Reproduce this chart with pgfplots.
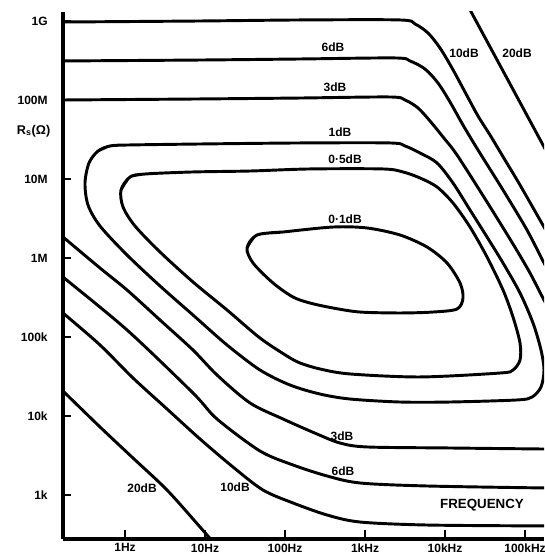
\documentclass[border=0pt]{standalone}
\usepackage{fontspec}
\setmainfont{Liberation Sans}
\usepackage{pgfplots}
\pgfplotsset{compat=1.18}

\begin{document}
\begin{tikzpicture}[lbl/.style={font=\bfseries\fontsize{9}{10}\selectfont}]
\path[use as bounding box, fill=white] (0pt,0pt) rectangle (408pt,417pt);
\begin{axis}[
    at={(47.25pt,12.75pt)}, anchor=south west,
    scale only axis, width=360.75pt, height=395.25pt,
    xmin=-0.775, xmax=5.2375, ymin=2.443, ymax=9.114,
    axis lines=left,
    axis line style={-, line width=2.4pt},
    tick align=inside, tickwidth=6pt,
    every tick/.style={line width=2.2pt, black},
    xtick={0,...,5}, xticklabels={1Hz,10Hz,100Hz,1kHz,10kHz,100kHz},
    ytick={3,...,9}, yticklabels={1k,10k,100k,1M,10M,100M,1G},
    tick label style={font=\bfseries\fontsize{9}{10}\selectfont},
    yticklabel style={xshift=-8pt},
    every axis y label/.style={at={(rel axis cs:0,0.774)}, anchor=east, xshift=-6pt,
        font=\bfseries\fontsize{9.5}{11}\selectfont},
    ylabel={R\textsubscript{s}(Ω)},
    every axis plot/.append style={smooth, tension=0.5},
    every axis plot post/.append style={black, solid, mark=none, line width=2.2pt},
    unbounded coords=jump,
]
% upper branches (10, 6, 3 dB)
\addplot coordinates {(-0.9,8.987) (-0.775,8.987) (0.9375,9.0) (2.1875,9.013) (3.4375,9.013) (3.625,8.962) (3.7875,8.848) (3.9375,8.658) (4.0875,8.405) (4.25,8.101) (4.4125,7.797) (4.5625,7.557) (4.75,7.24) (4.9375,6.924) (5.2375,6.392) (5.4375,6.038)};
\addplot coordinates {(-0.9,8.494) (-0.775,8.494) (0.9375,8.506) (2.1875,8.519) (3.375,8.532) (3.5625,8.494) (3.75,8.392) (3.9125,8.215) (4.0625,7.975) (4.225,7.683) (4.4125,7.367) (4.725,6.861) (5.025,6.354) (5.2375,5.937) (5.4375,5.57)};
\addplot coordinates {(-0.9,8.0) (-0.775,8.0) (0.9375,8.013) (2.1875,8.025) (3.3125,8.038) (3.5,8.0) (3.6625,7.899) (3.8125,7.734) (3.975,7.532) (4.15,7.304) (4.525,6.709) (4.85,6.177) (5.0625,5.81) (5.2375,5.468) (5.4375,5.114)};
% 20 dB, upper right
\addplot[sharp plot] coordinates {(4.2125,9.329) (5.3125,7.266)};
% 1 dB loop
\addplot coordinates {(-0.3375,7.354) (-0.1875,7.418) (0.025,7.430) (0.9375,7.443) (2.1875,7.456) (3.3125,7.456) (3.5,7.418) (3.6875,7.329) (3.9,7.203) (4.1,6.949) (4.3125,6.608) (4.525,6.266) (4.725,5.937) (4.9375,5.557) (5.1,5.177) (5.2,4.835) (5.2375,4.582) (5.2,4.367) (5.0875,4.24) (4.9,4.203) (4.0625,4.177) (3.4375,4.177) (2.8125,4.215) (2.4375,4.278) (2.0625,4.392) (1.6875,4.582) (1.275,4.899) (0.85,5.278) (0.4375,5.646) (0.025,6.038) (-0.3125,6.405) (-0.4625,6.671) (-0.5,6.95) (-0.45,7.203) (-0.3375,7.354) (-0.1875,7.418) (0.025,7.430)};
% 0.5 dB loop
\addplot coordinates {(-0.05,6.861) (0.0625,7.025) (0.25,7.063) (0.85,7.089) (1.5625,7.101) (2.3125,7.127) (3.225,7.127) (3.475,7.089) (3.6875,7.013) (3.9,6.899) (4.1,6.696) (4.3125,6.392) (4.525,6.013) (4.725,5.595) (4.85,5.253) (4.9375,4.924) (4.9375,4.709) (4.85,4.582) (4.6875,4.544) (3.6875,4.494) (2.8125,4.532) (2.4375,4.595) (2.1875,4.671) (2.025,4.759) (1.6875,4.987) (1.275,5.342) (0.85,5.696) (0.4375,6.076) (0.125,6.405) (-0.025,6.646) (-0.05,6.861) (0.0625,7.025) (0.25,7.063)};
% 0.1 dB loop
\addplot coordinates {(1.525,6.127) (1.65,6.291) (1.975,6.329) (2.6,6.392) (3.025,6.38) (3.4375,6.291) (3.775,6.139) (4.025,5.937) (4.1875,5.684) (4.225,5.494) (4.15,5.354) (3.85,5.316) (3.4375,5.304) (2.9375,5.316) (2.6,5.367) (2.3125,5.430) (2.1,5.506) (1.85,5.684) (1.6,5.937) (1.525,6.127) (1.65,6.291) (1.975,6.329)};
% lower branches (3, 6, 10, 20 dB)
\addplot coordinates {(-0.875,6.354) (-0.775,6.266) (-0.3125,5.873) (0.025,5.595) (0.4375,5.215) (0.85,4.835) (1.15,4.519) (1.5625,4.165) (1.975,3.962) (2.4,3.772) (2.6875,3.658) (3.025,3.608) (4.0625,3.595) (5.2375,3.582) (5.4375,3.582)};
\addplot coordinates {(-0.875,5.848) (-0.775,5.759) (0.025,5.089) (0.85,4.291) (1.15,3.962) (1.6875,3.557) (2.1,3.38) (2.525,3.241) (2.9375,3.152) (3.775,3.114) (5.2375,3.089) (5.4375,3.089)};
\addplot coordinates {(-0.875,5.392) (-0.775,5.304) (-0.3125,4.899) (0.1,4.481) (0.525,4.089) (0.9375,3.709) (1.35,3.354) (1.725,3.063) (2.1,2.899) (2.525,2.747) (2.9375,2.658) (3.775,2.62) (5.2375,2.608) (5.4375,2.608)};
\addplot coordinates {(-0.875,4.418) (-0.775,4.316) (-0.3125,3.861) (0.1,3.468) (0.525,3.063) (0.9375,2.595) (1.1875,2.304)};
% inward tick stubs on both axes
\addplot[sharp plot, line width=2.2pt] coordinates {
  (-0.8,3) (-0.67,3) (nan,nan) (-0.8,4) (-0.67,4) (nan,nan) (-0.8,5) (-0.67,5) (nan,nan)
  (-0.8,6) (-0.67,6) (nan,nan) (-0.8,7) (-0.67,7) (nan,nan) (-0.8,8) (-0.67,8) (nan,nan)
  (-0.8,9) (-0.67,9) (nan,nan)
  (0,2.42) (0,2.56) (nan,nan) (1,2.42) (1,2.56) (nan,nan) (2,2.42) (2,2.56) (nan,nan)
  (3,2.42) (3,2.56) (nan,nan) (4,2.42) (4,2.56) (nan,nan) (5,2.42) (5,2.56)};
% labels
\node[lbl] at (axis cs:2.6,8.671) {6dB};
\node[lbl] at (axis cs:2.625,8.165) {3dB};
\node[lbl] at (axis cs:2.6875,7.595) {1dB};
\node[lbl] at (axis cs:2.75,7.253) {0·5dB};
\node[lbl] at (axis cs:2.75,6.494) {0·1dB};
\node[lbl] at (axis cs:4.2375,8.595) {10dB};
\node[lbl] at (axis cs:4.9,8.595) {20dB};
\node[lbl] at (axis cs:2.7125,3.747) {3dB};
\node[lbl] at (axis cs:2.725,3.304) {6dB};
\node[lbl] at (axis cs:1.375,3.101) {10dB};
\node[lbl] at (axis cs:0.2125,3.089) {20dB};
\node[lbl, font=\bfseries\fontsize{10}{12}\selectfont] at (axis cs:4.4625,2.873) {FREQUENCY};
\end{axis}
\end{tikzpicture}
\end{document}
